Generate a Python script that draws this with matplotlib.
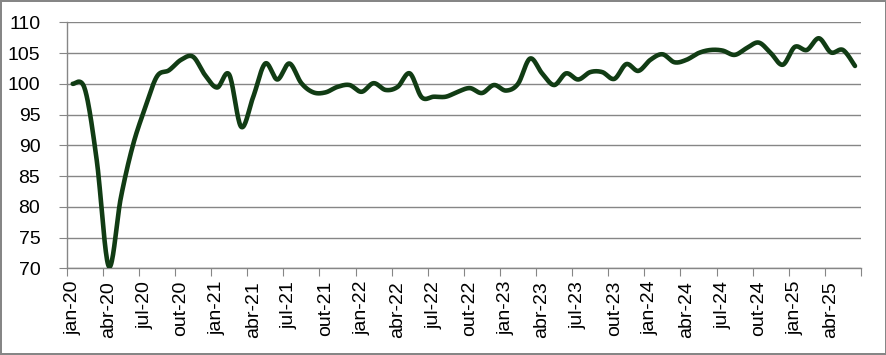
import matplotlib
matplotlib.use("Agg")
import matplotlib.pyplot as plt
import numpy as np

# monthly index, jan-20 .. jun-25
values = [100.0, 99.2, 87.5, 70.3, 81.5, 90.0, 96.0, 101.2, 102.2, 103.9, 104.4, 101.4,
          99.4, 101.5, 93.0, 97.9, 103.3, 100.7, 103.3, 100.1, 98.6, 98.6, 99.5, 99.8,
          98.7, 100.1, 99.0, 99.5, 101.7, 97.8, 97.9, 97.9, 98.7, 99.3, 98.5, 99.8,
          98.9, 100.0, 104.1, 101.7, 99.8, 101.7, 100.7, 101.9, 101.9, 100.8, 103.2, 102.1,
          103.9, 104.8, 103.5, 103.9, 105.0, 105.5, 105.4, 104.7, 105.8, 106.7, 105.0, 103.1,
          106.0, 105.5, 107.4, 105.1, 105.5, 102.9]

tick_labels = ["jan-20", "abr-20", "jul-20", "out-20",
               "jan-21", "abr-21", "jul-21", "out-21",
               "jan-22", "abr-22", "jul-22", "out-22",
               "jan-23", "abr-23", "jul-23", "out-23",
               "jan-24", "abr-24", "jul-24", "out-24",
               "jan-25", "abr-25"]

y_ticks = [70, 75, 80, 85, 90, 95, 100, 105, 110]

plt.rcParams['font.family'] = ['Liberation Sans', 'DejaVu Sans']

GRID = "#868686"
LINE = "#113C14"


def smooth(x, y, n=20):
    # excel-like smoothed line (catmull-rom bezier)
    x = np.asarray(x, float)
    y = np.asarray(y, float)
    px = np.concatenate([[x[0]], x, [x[-1]]])
    py = np.concatenate([[y[0]], y, [y[-1]]])
    xs, ys = [], []
    t = np.linspace(0, 1, n, endpoint=False)
    for i in range(1, len(px) - 2):
        p0, p1, p2, p3 = (np.array([px[j], py[j]]) for j in (i - 1, i, i + 1, i + 2))
        c1 = p1 + (p2 - p0) / 6
        c2 = p2 - (p3 - p1) / 6
        b = ((1 - t) ** 3)[:, None] * p1 + (3 * (1 - t) ** 2 * t)[:, None] * c1 \
            + (3 * (1 - t) * t ** 2)[:, None] * c2 + (t ** 3)[:, None] * p2
        xs.append(b[:, 0])
        ys.append(b[:, 1])
    xs.append([x[-1]])
    ys.append([y[-1]])
    return np.concatenate(xs), np.concatenate(ys)


fig = plt.figure(figsize=(8.87, 3.55), dpi=100)
fig.patch.set_edgecolor(GRID)
fig.patch.set_linewidth(1.5)
ax = fig.add_axes([0.0752, 0.2442, 0.8955, 0.693])

x = np.arange(len(values))
sx, sy = smooth(x, values)
ax.plot(sx, sy, color=LINE, lw=3.3, solid_capstyle='round', solid_joinstyle='round', zorder=3)

ax.set_xlim(-0.5, len(values) - 0.5)
ax.set_ylim(70, 110)
ax.set_yticks(y_ticks)
ax.yaxis.grid(True, color=GRID, lw=1)
ax.set_axisbelow(True)

# tick marks between categories, labels on the categories
ax.set_xticks(np.arange(-0.5, len(values), 3))
ax.set_xticklabels([])
ax.set_xticks(np.arange(0, len(values), 3), minor=True)
ax.set_xticklabels(tick_labels, minor=True, rotation=90, fontsize=14)
ax.tick_params(axis='x', which='major', length=6, color=GRID, direction='out')
ax.tick_params(axis='x', which='minor', length=0, pad=9)
ax.tick_params(axis='y', length=6, color=GRID, labelsize=14, pad=13)

for s in ["top", "right"]:
    ax.spines[s].set_visible(False)
for s in ["left", "bottom"]:
    ax.spines[s].set_color(GRID)
    ax.spines[s].set_linewidth(1)

fig.savefig("out.png", dpi=100, edgecolor=fig.get_edgecolor())
